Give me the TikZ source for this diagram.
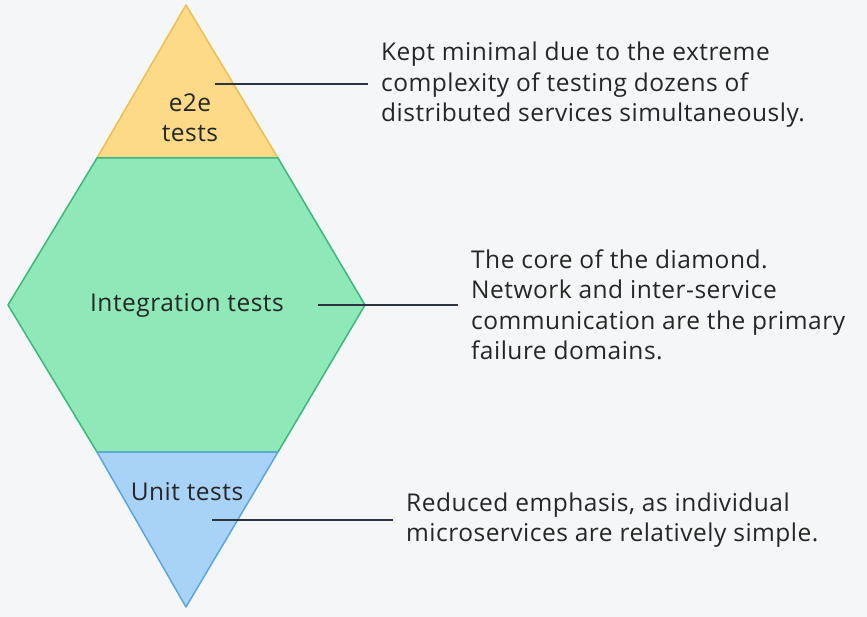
\documentclass[tikz,border=0pt]{standalone}
\usepackage{fontspec}
\setmainfont{Open Sans}[LetterSpace=2]
\begin{document}
\begin{tikzpicture}[x=1pt,y=-1pt,
  lab/.style={font=\fontsize{24.5}{30.5}\selectfont, text=black!85, inner sep=0pt},
  note/.style={lab, anchor=west, align=left},
  conn/.style={draw=lc, line width=2pt}]
\definecolor{bg}{HTML}{F4F6F8}\definecolor{lc}{HTML}{2B3440}
\definecolor{yf}{HTML}{FCDA88}\definecolor{yd}{HTML}{EEC052}
\definecolor{gf}{HTML}{8EE8B8}\definecolor{gd}{HTML}{3CB87A}
\definecolor{bf}{HTML}{A8D2F6}\definecolor{bd}{HTML}{5AA6DE}
\fill[bg] (0,0) rectangle (867,617);
\useasboundingbox (0,0) rectangle (867,617);
\filldraw[fill=yf,draw=yd,line width=1.5pt,line join=round] (186,5)--(278,158)--(97,158)--cycle;
\filldraw[fill=gf,draw=gd,line width=1.5pt,line join=round] (97,158)--(278,158)--(365,305)--(278,452)--(97,452)--(8,305)--cycle;
\filldraw[fill=bf,draw=bd,line width=1.5pt,line join=round] (97,452)--(278,452)--(186,607)--cycle;
\node[lab,align=center] (e2e) at (190,118) {e2e\\tests};
\node[lab] (int) at (187,305) {Integration tests};
\node[lab] (unit) at (187,492) {Unit tests};
\node[note] (n1) at (381,85) {Kept minimal due to the extreme\\complexity of testing dozens of\\distributed services simultaneously.};
\node[note] (n2) at (471,305) {The core of the diamond.\\Network and inter-service\\communication are the primary\\failure domains.};
\node[note] (n3) at (406,520) {Reduced emphasis, as individual\\microservices are relatively simple.};
\coordinate (c1) at (215,84);
\coordinate (c2) at (318,305);
\coordinate (c3) at (212,520);
\draw[conn] (c1) -- (368,84);
\draw[conn] (c2) -- ([xshift=-13pt]n2.west);
\draw[conn] (c3) -- ([xshift=-13pt]n3.west);
\end{tikzpicture}
\end{document}
